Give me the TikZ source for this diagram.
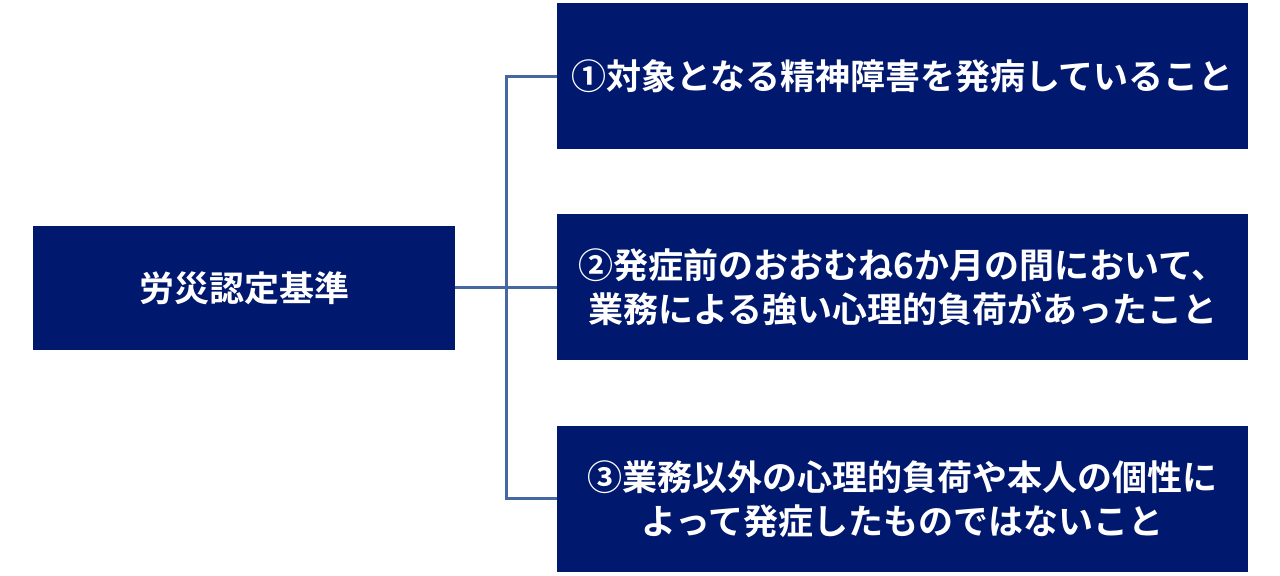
\documentclass[tikz,border=0pt]{standalone}
\usepackage{fontspec}
\newfontfamily\jpfont{Noto Sans CJK JP}[BoldFont={* Bold}]
\usepackage{xcolor}
\definecolor{mnavy}{RGB}{0,24,110}
\definecolor{mline}{RGB}{70,104,162}

\begin{document}
\begin{tikzpicture}[x=0.5pt, y=-0.5pt,
    box/.style={fill=mnavy, inner sep=0pt, align=center, text=white,
                font=\jpfont\bfseries\fontsize{17.5}{22}\selectfont},
    rootbox/.style={box, minimum width=211pt, minimum height=62pt},
    itembox/.style={box, minimum width=345.5pt, minimum height=73pt},
    branch/.style={mline, line width=1.5pt},
]
\useasboundingbox (0,0) rectangle (1280,576);

\node[rootbox] (criteria) at (244,288) {労災認定基準};
\node[itembox] (item1) at (902.5,76.5) {①対象となる精神障害を発病していること};
\node[itembox] (item2) at (902.5,287) {②発症前のおおむね6か月の間において、\\業務による強い心理的負荷があったこと};
\node[itembox] (item3) at (902.5,499) {③業務以外の心理的負荷や本人の個性に\\よって発症したものではないこと};

\coordinate (trunk) at (506,288);
\draw[branch] (criteria.east) -- (trunk);
\draw[branch] (trunk) |- (item1.west);
\draw[branch] (trunk) |- (item3.west);
\draw[branch] (trunk) -- (item2.west |- trunk);

\end{tikzpicture}
\end{document}
